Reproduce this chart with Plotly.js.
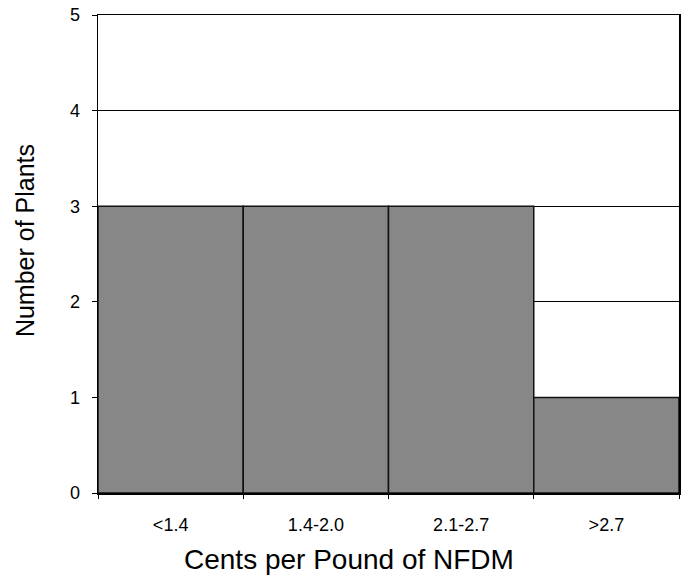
<!DOCTYPE html>
<html><head><meta charset="utf-8">
<script src="https://cdn.plot.ly/plotly-3.0.1.min.js"></script>
<style>html,body{margin:0;padding:0;background:#fff}#c{width:684px;height:578px}</style>
</head><body><div id="c"></div>
<script>
const categories = ["<1.4", "1.4-2.0", "2.1-2.7", ">2.7"];
const plants = [3, 3, 3, 1];
const yTicks = [0, 1, 2, 3, 4, 5];
const xTitle = "Cents per Pound of NFDM";
const yTitle = "Number of Plants";

const font = "Liberation Sans, Arial, sans-serif";
Plotly.newPlot("c", [{
  type: "bar",
  x: categories,
  y: plants,
  marker: {color: "#878787", line: {color: "#111", width: 1.5}},
  hoverinfo: "x+y"
}], {
  width: 684, height: 578,
  margin: {l: 98, r: 5, t: 15, b: 85},
  paper_bgcolor: "#fff", plot_bgcolor: "#fff",
  bargap: 0,
  showlegend: false,
  font: {family: font, color: "#000"},
  xaxis: {
    type: "category",
    tickson: "boundaries",
    ticks: "outside", ticklen: 4, tickcolor: "#000", tickwidth: 1,
    showline: true, linecolor: "#000", linewidth: 1.5, mirror: true,
    showgrid: false,
    tickfont: {size: 18, family: font},
    ticklabelstandoff: 15
  },
  yaxis: {
    range: [0, 5],
    tickvals: yTicks,
    ticks: "outside", ticklen: 5, tickcolor: "#000", tickwidth: 1,
    showline: true, linecolor: "#000", linewidth: 1.5, mirror: true,
    showgrid: true, gridcolor: "#000", gridwidth: 1,
    zeroline: false,
    tickfont: {size: 18, family: font},
    ticklabelstandoff: 8
  },
  annotations: [
    {text: xTitle, xref: "paper", yref: "paper", x: 0.432, y: -0.139,
     xanchor: "center", yanchor: "middle", showarrow: false,
     font: {size: 28, family: font, color: "#000"}},
    {text: yTitle, xref: "paper", yref: "paper", x: -0.1256, y: 0.527,
     xanchor: "center", yanchor: "middle", showarrow: false, textangle: -90,
     font: {size: 25, family: font, color: "#000"}}
  ]
}, {displayModeBar: false, staticPlot: true});
</script></body></html>
